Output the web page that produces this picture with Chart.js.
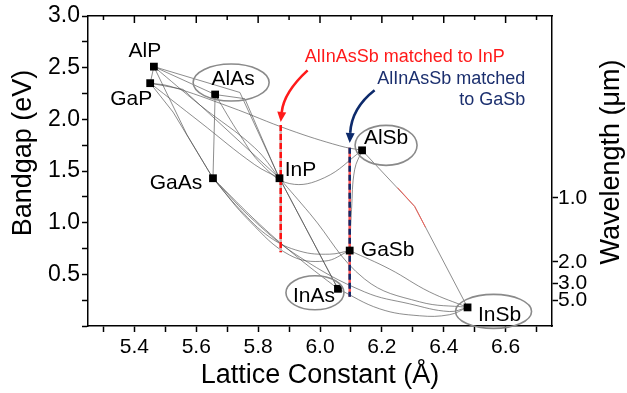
<!DOCTYPE html>
<html>
<head>
<meta charset="utf-8">
<script src="https://cdn.jsdelivr.net/npm/chart.js@4"></script>
<style>
  body { margin: 0; background: #fff; }
  #wrap { width: 627px; height: 393px; }
</style>
</head>
<body>
<div id="wrap"><canvas id="bandgapChart" width="627" height="393"></canvas></div>
<script>
// binary compounds: lattice constant (A) and bandgap (eV)
var compounds = ["AlP", "GaP", "AlAs", "GaAs", "InP", "AlSb", "GaSb", "InAs", "InSb"];
var lattice = [5.463, 5.451, 5.661, 5.654, 5.869, 6.136, 6.096, 6.058, 6.477];
var bandgap = [2.51, 2.35, 2.24, 1.43, 1.43, 1.70, 0.73, 0.36, 0.18];

// axis ticks
var xTicks = [5.3, 5.4, 5.5, 5.6, 5.7, 5.8, 5.9, 6.0, 6.1, 6.2, 6.3, 6.4, 6.5, 6.6, 6.7];
var xLabels = ["", "5.4", "", "5.6", "", "5.8", "", "6.0", "", "6.2", "", "6.4", "", "6.6", ""];
var waveTicks = [1.0, 2.0, 3.0, 5.0]; // right axis, wavelength in um

// alloy lines as [lattice, bandgap]
// kinked ones (straight segments)
var AlGaP = [[5.463, 2.51], [5.451, 2.35]];
var AlPAs = [[5.463, 2.51], [5.661, 2.24]];
var AlInP = [[5.463, 2.51], [5.741, 2.26], [5.869, 1.43]];
var AlInAs = [[5.661, 2.24], [5.757, 2.20], [5.862, 1.47], [6.058, 0.36]];
var GaInP = [[5.451, 2.35], [5.557, 2.29], [5.869, 1.43]];
var GaPAs = [[5.451, 2.35], [5.525, 2.07], [5.654, 1.43]];
var AlGaPAs = [[5.463, 2.51], [5.570, 1.85], [5.654, 1.43]];
var AlGaAs = [[5.661, 2.24], [5.654, 1.43]];
var InPAs = [[5.869, 1.43], [6.058, 0.36]];
var AlInSb = [[6.136, 1.70], [6.306, 1.157], [6.477, 0.18]];
var AlInSbRed = [[6.251, 1.339], [6.306, 1.157], [6.341, 0.955]];
// bowed ones (smooth)
var AlPSb = [[5.451, 2.35], [5.515, 2.32], [5.709, 2.12], [5.902, 1.897], [6.064, 1.743], [6.136, 1.70]];
var AlInPdir = [[5.463, 2.51], [5.612, 2.138], [5.789, 1.724], [5.869, 1.43]];
var GaInPdir = [[5.451, 2.35], [5.612, 1.974], [5.789, 1.561], [5.869, 1.43]];
var AlAsSb = [[5.661, 2.24], [5.741, 1.849], [5.812, 1.561], [5.902, 1.378], [6.015, 1.436], [6.136, 1.70]];
var InPSb = [[5.869, 1.43], [5.967, 1.089], [6.144, 0.455], [6.322, 0.234], [6.477, 0.18]];
var GaInSb = [[6.096, 0.73], [6.225, 0.551], [6.354, 0.330], [6.477, 0.18]];
var InAsSb = [[6.058, 0.36], [6.193, 0.166], [6.322, 0.099], [6.418, 0.109], [6.477, 0.18]];
var AlGaSb = [[6.136, 1.70], [6.112, 1.513], [6.102, 1.128], [6.096, 0.73]];
var GaAsSb = [[5.654, 1.43], [5.741, 1.128], [5.838, 0.859], [5.935, 0.724], [6.031, 0.695], [6.096, 0.73]];
var GaAsSb2 = [[5.654, 1.43], [5.773, 1.013], [5.902, 0.686], [6.015, 0.628], [6.096, 0.73]];
var GaInAs = [[5.654, 1.43], [5.805, 0.984], [5.935, 0.647], [6.058, 0.36]];
var GaInAsSb = [[5.654, 1.43], [5.789, 1.013], [5.935, 0.666], [6.144, 0.330], [6.289, 0.215], [6.418, 0.14], [6.477, 0.18]];

// AlInAsSb lattice-matched lines
var matchInP = [[5.873, 1.945], [5.873, 0.714]];
var matchGaSb = [[6.096, 1.725], [6.096, 0.283]];

var kinked = [AlGaP, AlPAs, AlInP, AlInAs, GaInP, GaPAs, AlGaPAs, AlGaAs, InPAs, AlInSb];
var smooth = [AlPSb, AlInPdir, GaInPdir, AlAsSb, InPSb, GaInSb, InAsSb, AlGaSb, GaAsSb, GaAsSb2, GaInAs, GaInAsSb];

// label / ellipse placement relative to the markers (pixels)
var labelOffset = {
  AlP: [-9, -15], GaP: [-19, 16], AlAs: [18, -15], GaAs: [-37, 5], InP: [21, -8],
  AlSb: [24, -12], GaSb: [38, 0], InAs: [-24, 7], InSb: [32, 8]
};
var ellipses = [
  { name: "AlAs", dx: 16, dy: -12, rx: 38, ry: 18.5 },
  { name: "AlSb", dx: 24, dy: -5, rx: 31, ry: 20 },
  { name: "InAs", dx: -23, dy: 4, rx: 29, ry: 17 },
  { name: "InSb", dx: 26, dy: 4, rx: 38, ry: 17 }
];
var arrows = [
  { from: [5.960, 2.474], ctrl: [5.883, 2.262], to: [5.873, 1.974], color: "#ff1a1a" },
  { from: [6.1765, 2.282], ctrl: [6.102, 2.109], to: [6.096, 1.772], color: "#0d2a6b" }
];

function pts(arr) {
  return arr.map(function (p) { return { x: p[0], y: p[1] }; });
}

function curveSet(arr, tension, color, width) {
  return {
    data: pts(arr),
    showLine: true,
    tension: tension,
    borderColor: color || "rgba(75,75,75,0.8)",
    borderWidth: width || 0.8,
    pointRadius: 0,
    order: 2
  };
}

var datasets = [];
datasets.push({
  label: "binaries",
  data: compounds.map(function (c, i) { return { x: lattice[i], y: bandgap[i] }; }),
  showLine: false,
  pointStyle: "rect",
  pointRadius: 5.5,
  backgroundColor: "#000",
  borderColor: "#000",
  borderWidth: 0,
  order: 0
});
kinked.forEach(function (c) { datasets.push(curveSet(c, 0)); });
smooth.forEach(function (c) { datasets.push(curveSet(c, 0.4)); });
datasets.push(Object.assign(curveSet(AlInSbRed, 0, "rgba(255,90,80,0.9)", 1), { order: 1 }));

// dashed matched lines: base colour then dashes on top
datasets.push(Object.assign(curveSet(matchInP, 0, "#d0b0b0", 2.5), { order: 1 }));
datasets.push(Object.assign(curveSet(matchInP, 0, "#ff1010", 2.5), { order: 0.5, borderDash: [6, 3] }));
datasets.push(Object.assign(curveSet(matchGaSb, 0, "#ff5050", 2.5), { order: 1 }));
datasets.push(Object.assign(curveSet(matchGaSb, 0, "#0d2a6b", 2.5), { order: 0.5, borderDash: [6, 3] }));

var FONT = "'Liberation Sans', Arial, sans-serif";
Chart.defaults.font.family = FONT;
Chart.defaults.color = "#000";

var annotate = {
  id: "annotate",
  afterDatasetsDraw: function (chart) {
    var ctx = chart.ctx, sx = chart.scales.x, sy = chart.scales.y, area = chart.chartArea;
    function px(a) { return sx.getPixelForValue(a); }
    function py(e) { return sy.getPixelForValue(e); }
    ctx.save();

    // mirrored ticks on the top edge, pointing inwards
    ctx.strokeStyle = "#000";
    ctx.lineWidth = 1.5;
    xTicks.forEach(function (v, i) {
      var len = xLabels[i] ? 7 : 4;
      ctx.beginPath();
      ctx.moveTo(px(v), area.top);
      ctx.lineTo(px(v), area.top + len);
      ctx.stroke();
    });

    // ellipses round some compounds
    ctx.strokeStyle = "#8a8a8a";
    ctx.lineWidth = 1.6;
    ellipses.forEach(function (el) {
      var i = compounds.indexOf(el.name);
      ctx.beginPath();
      ctx.ellipse(px(lattice[i]) + el.dx, py(bandgap[i]) + el.dy, el.rx, el.ry, 0, 0, Math.PI * 2);
      ctx.stroke();
    });

    // compound names
    ctx.fillStyle = "#000";
    ctx.font = "21px " + FONT;
    ctx.textAlign = "center";
    ctx.textBaseline = "middle";
    compounds.forEach(function (c, i) {
      var o = labelOffset[c];
      ctx.fillText(c, px(lattice[i]) + o[0], py(bandgap[i]) + o[1]);
    });

    // annotation texts
    ctx.font = "18px " + FONT;
    ctx.fillStyle = "#ff1a1a";
    ctx.textAlign = "left";
    ctx.fillText("AlInAsSb matched to InP", px(5.9506), py(2.599));
    ctx.fillStyle = "#1b2f6e";
    ctx.textAlign = "right";
    ctx.fillText("AlInAsSb matched", px(6.6635), py(2.388));
    ctx.fillText("to GaSb", px(6.6635), py(2.186));

    // curved arrows
    arrows.forEach(function (ar) {
      var x0 = px(ar.from[0]), y0 = py(ar.from[1]);
      var cx = px(ar.ctrl[0]), cy = py(ar.ctrl[1]);
      var x1 = px(ar.to[0]), y1 = py(ar.to[1]);
      var ang = Math.atan2(y1 - cy, x1 - cx);
      var hl = 10, hw = 4.5;
      var bx = x1 - hl * Math.cos(ang), by = y1 - hl * Math.sin(ang);
      ctx.strokeStyle = ar.color;
      ctx.fillStyle = ar.color;
      ctx.lineWidth = 2.6;
      ctx.beginPath();
      ctx.moveTo(x0, y0);
      ctx.quadraticCurveTo(cx, cy, bx, by);
      ctx.stroke();
      ctx.beginPath();
      ctx.moveTo(x1, y1);
      ctx.lineTo(bx + hw * Math.sin(ang), by - hw * Math.cos(ang));
      ctx.lineTo(bx - hw * Math.sin(ang), by + hw * Math.cos(ang));
      ctx.closePath();
      ctx.fill();
    });

    // vertical axis titles (both read bottom to top)
    ctx.fillStyle = "#000";
    ctx.font = "27px " + FONT;
    ctx.textAlign = "center";
    ctx.textBaseline = "middle";
    ctx.save();
    ctx.translate(area.left - 64, 153);
    ctx.rotate(-Math.PI / 2);
    ctx.fillText("Bandgap (eV)", 0, 0);
    ctx.restore();
    ctx.save();
    ctx.translate(area.right + 60, 162);
    ctx.rotate(-Math.PI / 2);
    ctx.fillText("Wavelength (\u03bcm)", 0, 0);
    ctx.restore();

    ctx.restore();
  }
};

var border = { display: true, color: "#000", width: 1.5 };

new Chart(document.getElementById("bandgapChart").getContext("2d"), {
  type: "scatter",
  data: { datasets: datasets },
  options: {
    responsive: false,
    animation: false,
    layout: { padding: 0 },
    plugins: { legend: { display: false }, tooltip: { enabled: false } },
    scales: {
      x: {
        type: "linear", position: "bottom", min: 5.25, max: 6.75,
        border: border,
        grid: { drawOnChartArea: false, color: "#000", tickLength: 6, tickWidth: 1.5 },
        afterBuildTicks: function (s) {
          s.ticks = xTicks.map(function (v) { return { value: v }; });
        },
        ticks: {
          autoSkip: false, maxRotation: 0, padding: 3, font: { size: 21 },
          callback: function (v, i) { return xLabels[i]; }
        },
        title: { display: true, text: "Lattice Constant (\u00c5)", font: { size: 27 }, padding: { top: 0, bottom: 1 } },
        afterFit: function (s) { s.height = 67; }
      },
      x2: {
        type: "linear", position: "top", min: 5.25, max: 6.75,
        border: border,
        grid: { display: false },
        ticks: { display: false },
        afterFit: function (s) { s.height = 16; }
      },
      y: {
        type: "linear", position: "left", min: 0, max: 3,
        border: border,
        grid: { drawOnChartArea: false, color: "#000", tickLength: 6, tickWidth: 1.5 },
        ticks: {
          stepSize: 0.25, autoSkip: false, maxTicksLimit: 100, padding: 2, font: { size: 23 },
          callback: function (v) {
            var q = Math.round(v * 4);
            return (q % 2 === 0 && q > 0) ? v.toFixed(1) : "";
          }
        },
        afterFit: function (s) { s.width = 88; }
      },
      y2: {
        type: "linear", position: "right", min: 0, max: 3,
        border: border,
        grid: { drawOnChartArea: false, color: "#000", tickLength: 6, tickWidth: 1.5 },
        afterBuildTicks: function (s) {
          s.ticks = waveTicks.map(function (w) { return { value: 1.24 / w }; });
        },
        ticks: {
          autoSkip: false, padding: 0, font: { size: 21 },
          callback: function (v, i) { return waveTicks[i].toFixed(1); }
        },
        afterFit: function (s) { s.width = 75; }
      }
    }
  },
  plugins: [annotate]
});
</script>
</body>
</html>
